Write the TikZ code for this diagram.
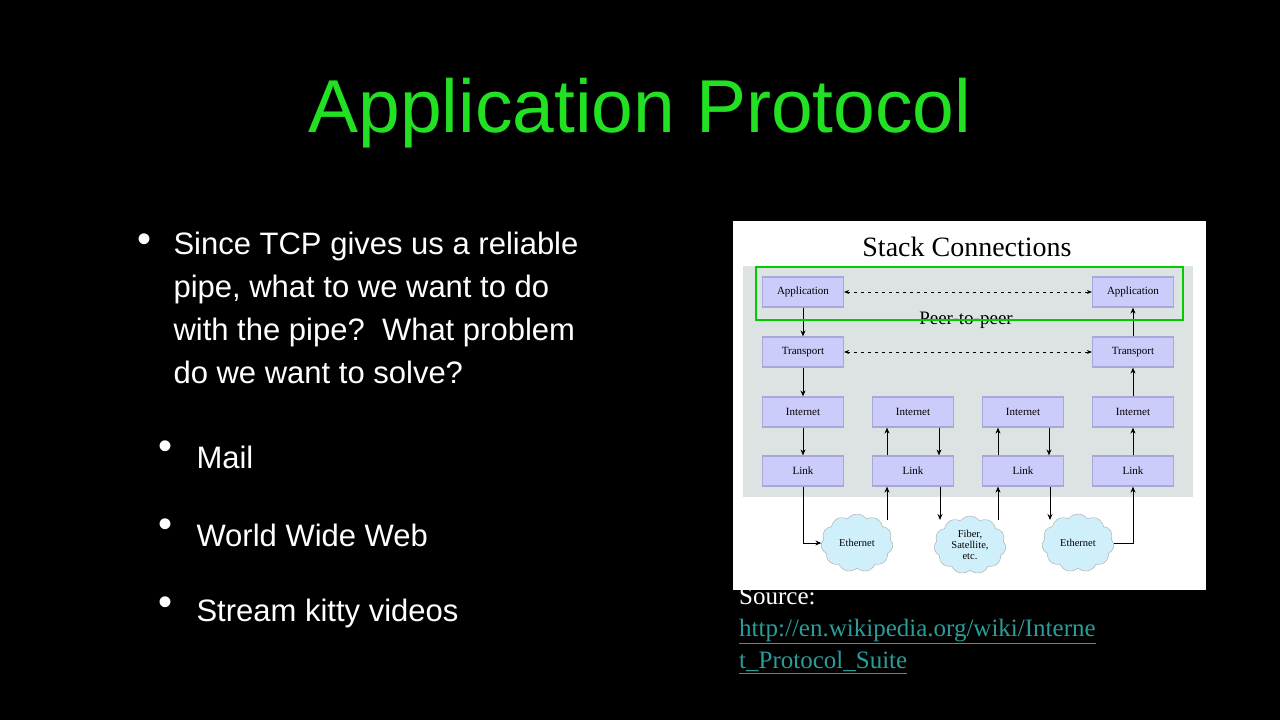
\documentclass[tikz,border=0pt]{standalone}
\usepackage{fontspec}
\setmainfont{Liberation Sans}
\newfontfamily\serifx{Liberation Serif}
\usetikzlibrary{shapes.symbols,arrows.meta}
\definecolor{ttl}{HTML}{22E022}
\definecolor{lnk}{HTML}{2A9D9A}
\definecolor{boxf}{HTML}{CCCCFA}
\definecolor{boxd}{HTML}{A8A8D8}
\definecolor{gry}{HTML}{DDE3E3}
\definecolor{cld}{HTML}{CFF0FA}
\tikzset{
 lay/.style={draw=boxd,fill=boxf,line width=1.2pt,minimum width=81pt,minimum height=30pt,inner sep=0pt,font=\serifx\fontsize{11}{12}\selectfont},
 cl/.style={cloud,cloud puffs=11,cloud puff arc=110,aspect=1.3,draw=gray!70,fill=cld,minimum width=72pt,minimum height=58pt,inner sep=0pt,align=center,font=\serifx\fontsize{10.5}{11}\selectfont},
 ar/.style={-{Stealth[length=6pt,width=5pt]},line width=1pt},
 dar/.style={{Stealth[length=5pt,width=4pt]}-{Stealth[length=5pt,width=4pt]},dashed,line width=0.8pt,dash pattern=on 3pt off 4pt},
 btxt/.style={anchor=west,text=white,font=\fontsize{31}{43}\selectfont,align=left},
}
\begin{document}
\begin{tikzpicture}[x=1pt,y=-1pt]
\fill[black] (0,0) rectangle (1280,720);
\useasboundingbox (0,0) rectangle (1280,720);
\node[text=ttl,font=\fontsize{75}{80}\selectfont] (title) at (640,113) {Application Protocol};
\node[text=white,font=\fontsize{40}{40}\selectfont] (b0) at (145,243) {•};
\node[btxt,anchor=north west] (t0) at (170,228) {Since TCP gives us a reliable\\pipe, what to we want to do\\with the pipe?\ \ What problem\\do we want to solve?};
\node[text=white,font=\fontsize{40}{40}\selectfont] (b1) at (165,450) {•};
\node[text=white,font=\fontsize{40}{40}\selectfont] (b2) at (165,528) {•};
\node[text=white,font=\fontsize{40}{40}\selectfont] (b3) at (165,606) {•};
\node[btxt] (t1) at (193,457) {Mail};
\node[btxt] (t2) at (193,535) {World Wide Web};
\node[btxt] (t3) at (193,613) {Stream kitty videos};
% diagram
\fill[white] (733,221) rectangle (1206,590);
\fill[gry] (743,266) rectangle (1193,497);
\node[font=\serifx\fontsize{28}{30}\selectfont] (st) at (967,247) {Stack Connections};
\node[font=\serifx\fontsize{19}{20}\selectfont] (p2p) at (966,320) {Peer-to-peer};
\foreach \c/\x in {1/803,2/913,3/1023,4/1133}{
 \node[lay] (i\c) at (\x,412) {Internet};
 \node[lay] (l\c) at (\x,471) {Link};
}
\node[lay] (a1) at (803,292) {Application};
\node[lay] (a4) at (1133,292) {Application};
\node[lay] (tr1) at (803,352) {Transport};
\node[lay] (tr4) at (1133,352) {Transport};
\node[cl] (e1) at (857,543) {Ethernet};
\node[cl] (f) at (970,545) {Fiber,\\Satellite,\\etc.};
\node[cl] (e2) at (1078,543) {Ethernet};
\draw[dar] (a1) -- (a4);
\draw[dar] (tr1) -- (tr4);
\draw[ar] (a1) -- (tr1);
\draw[ar] (tr1) -- (i1);
\draw[ar] (i1) -- (l1);
\draw[ar] (tr4) -- (a4);
\draw[ar] (i4) -- (tr4);
\draw[ar] (l4) -- (i4);
\draw[ar] (l1.south) |- (e1.west);
\draw[ar] (e2.east) -| (l4.south);
\draw[ar] (l2.north-|887,0) -- (i2.south-|887,0);
\draw[ar] (i2.south-|939,0) -- (l2.north-|939,0);
\draw[ar] (l3.north-|998,0) -- (i3.south-|998,0);
\draw[ar] (i3.south-|1049,0) -- (l3.north-|1049,0);
\draw[ar] (887,520) -- (l2.south-|887,0);
\draw[ar] (l2.south-|940,0) -- (940,520);
\draw[ar] (998,520) -- (l3.south-|998,0);
\draw[ar] (l3.south-|1050,0) -- (1050,520);
\draw[green!80!black,line width=1.5pt] (756,267) rectangle (1183,320);
\node[anchor=north west,inner sep=0pt,align=left,font=\serifx\fontsize{25}{32}\selectfont,text=white] (src) at (739,588) {Source:\\\textcolor{lnk}{\underline{http://en.wikipedia.org/wiki/Interne}}\\\textcolor{lnk}{\underline{t\_Protocol\_Suite}}};
\end{tikzpicture}
\end{document}
